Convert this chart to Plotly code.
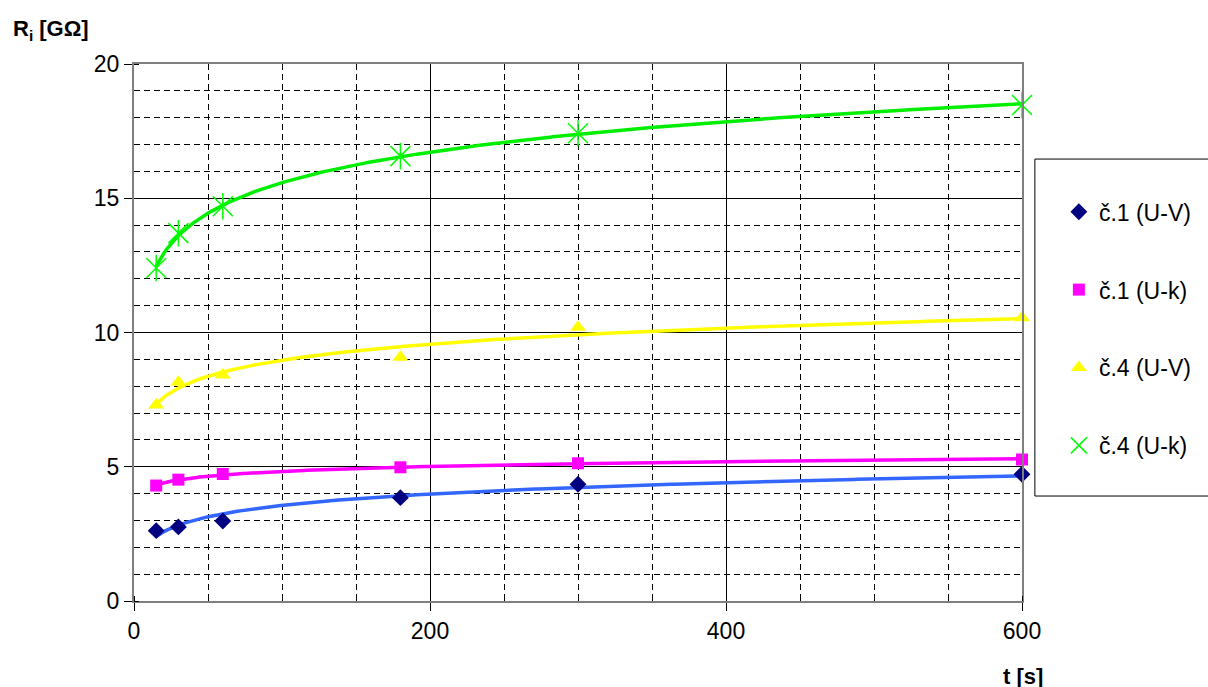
import numpy as np
import plotly.graph_objects as go

t = [15, 30, 60, 180, 300, 600]
c1_uv = [2.62, 2.76, 2.98, 3.85, 4.35, 4.72]
c1_uk = [4.3, 4.52, 4.73, 4.98, 5.13, 5.27]
c4_uv = [7.3, 8.15, 8.42, 9.08, 10.2, 10.55]
c4_uk = [12.4, 13.7, 14.7, 16.57, 17.42, 18.47]

names = ["č.1 (U-V)", "č.1 (U-k)", "č.4 (U-V)", "č.4 (U-k)"]
series = [c1_uv, c1_uk, c4_uv, c4_uk]
marker_colors = ["#000080", "#FF00FF", "#FFFF00", "#00FF00"]
line_colors = ["#3366FF", "#FF00FF", "#FFFF00", "#00EE00"]
symbols = ["diamond", "square", "triangle-up", "x-thin-open"]
sizes = [13, 12, 14, 20]

FONT = "Liberation Sans, Arial, sans-serif"

fig = go.Figure()

# logarithmic trendlines (least squares fit in ln t), as in the original spreadsheet chart
tt = np.linspace(min(t), max(t), 300)
for ys, lc in zip(series, line_colors):
    a, b = np.polyfit(np.log(t), ys, 1)
    fig.add_trace(go.Scatter(x=tt, y=a * np.log(tt) + b, mode="lines",
                             line=dict(color=lc, width=3.5), showlegend=False,
                             hoverinfo="skip", cliponaxis=False))

for i, (ys, nm, mc, sy, sz) in enumerate(zip(series, names, marker_colors, symbols, sizes)):
    mk = dict(color=mc, symbol=sy, size=sz)
    if sy.endswith("open"):
        mk["line"] = dict(color=mc, width=1.5)
    fig.add_trace(go.Scatter(x=t, y=ys, mode="markers", name=nm, marker=mk,
                             legendgroup="g%d" % i, cliponaxis=False))
    if sy.startswith("x-thin"):
        fig.add_trace(go.Scatter(x=t, y=ys, mode="markers", showlegend=False,
                                 marker=dict(symbol="line-ns-open", size=sz - 1, color=mc,
                                             line=dict(color=mc, width=1.5)),
                                 legendgroup="g%d" % i, cliponaxis=False))

axis_common = dict(
    showline=True, linecolor="#808080", linewidth=2, mirror=True,
    showgrid=True, gridcolor="black", gridwidth=1,
    ticks="outside", ticklen=8, tickcolor="black",
    tickfont=dict(family=FONT, size=23, color="black"),
    zeroline=False,
)

fig.update_xaxes(range=[0, 600], dtick=200, tick0=0,
                 minor=dict(dtick=50, showgrid=True, gridcolor="black",
                            griddash="6px,4px", gridwidth=1, ticks="inside",
                            ticklen=5, tickcolor="black"),
                 **axis_common)
fig.update_yaxes(range=[0, 20], dtick=5, tick0=0,
                 minor=dict(dtick=1, showgrid=True, gridcolor="black",
                            griddash="6px,4px", gridwidth=1, ticks="inside",
                            ticklen=5, tickcolor="black"),
                 **axis_common)

fig.add_annotation(text="<b>R<sub>i</sub> [GΩ]</b>", xref="paper", yref="paper",
                   x=-0.1387, y=1.063, xanchor="left", yanchor="middle", showarrow=False,
                   font=dict(family=FONT, size=22, color="black"))
fig.add_annotation(text="<b>t [s]</b>", xref="paper", yref="paper",
                   x=1.001, y=-0.113, xanchor="center", yanchor="top", showarrow=False,
                   font=dict(family=FONT, size=22, color="black"))

# legend frame
fig.add_shape(type="rect", xref="paper", yref="paper",
              x0=1.0145, x1=1.25, y0=0.1955, y1=0.823,
              line=dict(color="black", width=1), fillcolor="white", layer="below")

fig.update_layout(
    width=1208, height=687,
    margin=dict(l=134, r=180, t=64, b=86),
    plot_bgcolor="white", paper_bgcolor="white",
    legend=dict(x=1.0145, y=0.823, xanchor="left", yanchor="top",
                borderwidth=0, bgcolor="rgba(0,0,0,0)",
                font=dict(family=FONT, size=23, color="black"),
                tracegroupgap=45, itemwidth=30, indentation=24,
                title=dict(text="<br>", font=dict(size=12))),
    showlegend=True,
)

fig.write_html("out.html", config={"displayModeBar": False},
               post_script="document.body.style.margin='0';"
                           "document.body.style.overflow='hidden';"
                           "document.documentElement.style.overflow='hidden';")
